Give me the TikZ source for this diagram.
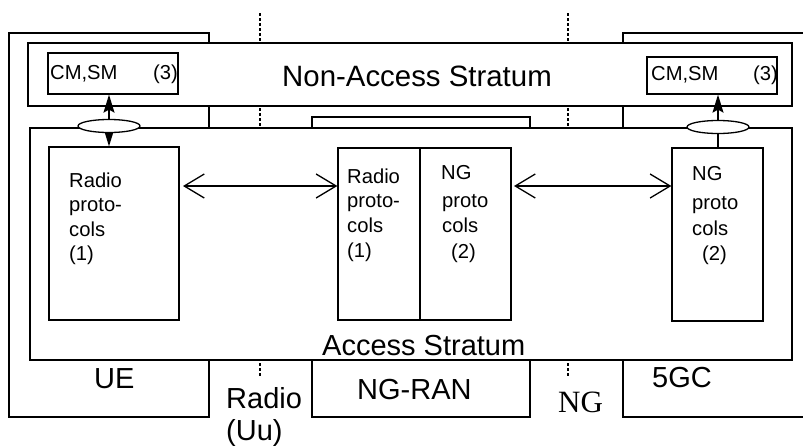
\documentclass[tikz,border=0pt]{standalone}
\usepackage{fontspec}
\setmainfont{Liberation Sans}
\newfontfamily\serifNG{Liberation Serif}
\usetikzlibrary{arrows.meta,shapes.geometric}
\begin{document}
\begin{tikzpicture}[x=1pt,y=-1pt,
  box/.style={draw,line width=1.3pt,rectangle,inner sep=0pt,fill=white},
  obox/.style={draw,line width=1.3pt,rectangle,inner sep=0pt},
  ell/.style={draw,ellipse,line width=1.3pt,fill=white,inner sep=0pt,minimum width=62pt,minimum height=13pt},
  iface/.style={line width=2.6pt,dash pattern=on 3pt off 2pt},
  bigtxt/.style={font=\fontsize{29}{34}\selectfont,anchor=base west,inner sep=0pt},
  smtxt/.style={font=\fontsize{20.2}{24}\selectfont,anchor=base west,inner sep=0pt},
  barb/.style={line width=1.3pt,{Straight Barb[length=20pt,width=24pt]}-{Straight Barb[length=20pt,width=24pt]}},
  sarr/.style={line width=1.3pt,-{Stealth[length=18pt,width=11pt,inset=3pt]}},
  darr/.style={line width=1.3pt,{Stealth[length=18pt,width=11pt,inset=3pt]}-{Stealth[length=18pt,width=11pt,inset=3pt]}}
]
\useasboundingbox (0,0) rectangle (803,447);
\clip (0,0) rectangle (803,447);

% interface dotted lines
\coordinate (d1t) at (260,13);
\coordinate (d1b) at (260,377);
\coordinate (d2t) at (568,13);
\coordinate (d2b) at (568,377);
\draw[iface] (d1t) -- (d1b);
\draw[iface] (d2t) -- (d2b);

% outer entity boxes
\node[obox,minimum width=200pt,minimum height=384pt] (ue) at (109,225) {};
\node[obox,minimum width=218pt,minimum height=300pt] (ngran) at (421,267) {};
\node[obox,minimum width=207pt,minimum height=384pt] (fgc) at (726.5,225) {};

% strata
\node[box,minimum width=764pt,minimum height=63pt] (nas) at (410,74.5) {};
\node[box,minimum width=762pt,minimum height=232pt] (as) at (411,244) {};

% inner boxes
\node[obox,minimum width=130pt,minimum height=41pt] (cmL) at (113,73.5) {};
\node[obox,minimum width=130pt,minimum height=37pt] (cmR) at (712,75.5) {};
\node[obox,minimum width=130pt,minimum height=173pt] (radL) at (114,233.5) {};
\node[obox,minimum width=82pt,minimum height=172pt] (midR) at (379,234) {};
\node[obox,minimum width=91pt,minimum height=172pt] (midN) at (465.5,234) {};
\node[obox,minimum width=91pt,minimum height=173pt] (ngR) at (717.5,234.5) {};

% ellipses (positions)
\coordinate (eL) at (109,126);
\coordinate (eR) at (718,127);

% arrows
\draw[darr] (eL |- cmL.south) -- (eL |- radL.north);
\draw[sarr] (eR |- ngR.north) -- (eR |- cmR.south);
\node[ell] (ellL) at (eL) {};
\node[ell] (ellR) at (eR) {};

\coordinate (a1) at (183,186);
\coordinate (a2) at (514,186);
\draw[barb] (a1) -- (a1 -| midR.west);
\draw[barb] (a2) -- (a2 -| ngR.west);

% texts
\node[font=\fontsize{29.4}{34}\selectfont,anchor=base,inner sep=0pt] (nastxt) at (417,86) {Non-Access Stratum};
\node[smtxt] (cmLt) at (50,79) {CM,SM};
\node[smtxt] (cmLn) at (153,79) {(3)};
\node[smtxt] (cmRt) at (651,80) {CM,SM};
\node[smtxt] (cmRn) at (753,80) {(3)};

\node[smtxt] (l1) at (69,187) {Radio};
\node[smtxt] (l2) at (69,211.5) {proto-};
\node[smtxt] (l3) at (69,236) {cols};
\node[smtxt] (l4) at (69,260.5) {(1)};

\node[smtxt] (m1) at (347,183) {Radio};
\node[smtxt] (m2) at (347,207.7) {proto-};
\node[smtxt] (m3) at (347,232.4) {cols};
\node[smtxt] (m4) at (347,257) {(1)};

\node[smtxt] (n1) at (441,179) {NG};
\node[smtxt] (n2) at (442,207) {proto};
\node[smtxt] (n3) at (442,232) {cols};
\node[smtxt] (n4) at (451,258) {(2)};

\node[smtxt] (r1) at (692,180) {NG};
\node[smtxt] (r2) at (692,209) {proto};
\node[smtxt] (r3) at (692,235) {cols};
\node[smtxt] (r4) at (702,260) {(2)};

\node[bigtxt] (astxt) at (322,355) {Access Stratum};
\node[bigtxt] (uetxt) at (94,388) {UE};
\node[bigtxt] (rantxt) at (357,399) {NG-RAN};
\node[bigtxt] (uu1) at (226,408) {Radio};
\node[bigtxt] (uu2) at (226,440) {(Uu)};
\node[font=\serifNG\fontsize{31}{36}\selectfont,anchor=base west,inner sep=0pt] (ngtxt) at (558,412) {NG};
\node[bigtxt] (fgctxt) at (652,387) {5GC};
\end{tikzpicture}
\end{document}
